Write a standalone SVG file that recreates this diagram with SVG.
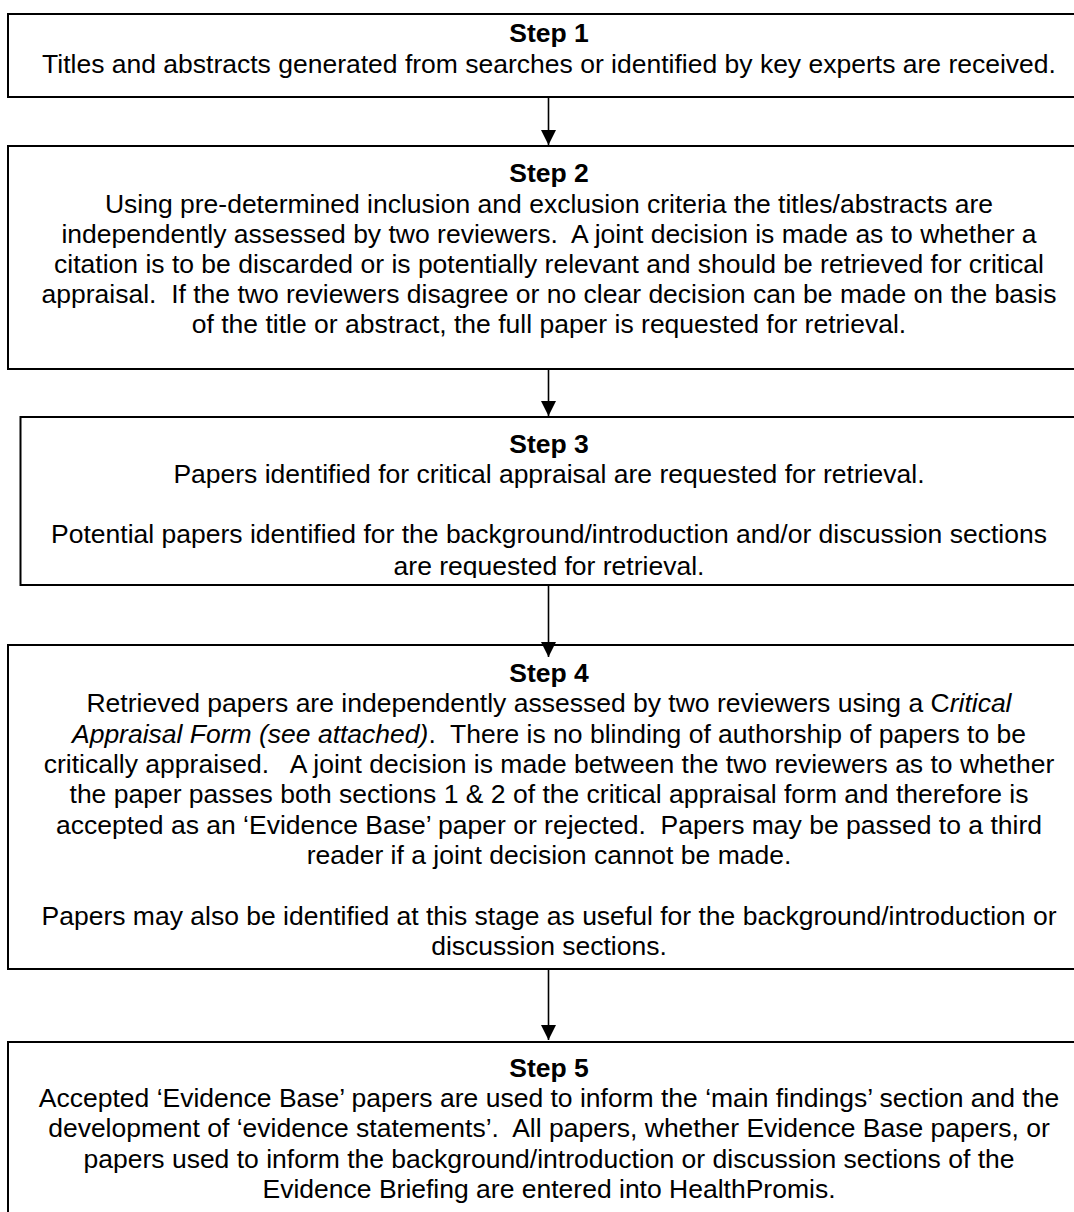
<svg xmlns="http://www.w3.org/2000/svg" width="1074" height="1212" viewBox="0 0 1074 1212" xml:space="preserve">
<style>
  .box { fill: #fff; stroke: #000; stroke-width: 2; }
  .t { font-family: "Liberation Sans", Arial, sans-serif; font-size: 26.5px; fill: #000; text-anchor: middle; white-space: pre; }
  .b { font-weight: bold; }
  .i { font-style: italic; }
  .conn { stroke: #000; stroke-width: 1.6; fill: none; marker-end: url(#ah); }
</style>
<defs>
  <marker id="ah" markerUnits="userSpaceOnUse" markerWidth="16" markerHeight="15" refX="15" refY="7.5" orient="auto">
    <path d="M0,0 L15,7.5 L0,15 Z" fill="#000"/>
  </marker>
  <clipPath id="clip3"><rect x="20" y="417" width="1070" height="161"/></clipPath>
</defs>
<rect width="1074" height="1212" fill="#fff"/>

<g id="step1">
  <rect class="box" x="8" y="14" width="1090" height="83"/>
  <text class="t b" x="549" y="42">Step 1</text>
  <text class="t" x="549" y="72.5">Titles and abstracts generated from searches or identified by key experts are received.</text>
</g>

<g id="step2">
  <rect class="box" x="8" y="146" width="1090" height="223"/>
  <text class="t b" x="549" y="181.7">Step 2</text>
  <text class="t" x="549" y="212.5">Using pre-determined inclusion and exclusion criteria the titles/abstracts are</text>
  <text class="t" x="549" y="242.7">independently assessed by two reviewers.  A joint decision is made as to whether a</text>
  <text class="t" x="549" y="272.9">citation is to be discarded or is potentially relevant and should be retrieved for critical</text>
  <text class="t" x="549" y="303.1">appraisal.  If the two reviewers disagree or no clear decision can be made on the basis</text>
  <text class="t" x="549" y="333.3">of the title or abstract, the full paper is requested for retrieval.</text>
</g>

<g id="step3">
  <rect class="box" x="20.5" y="417" width="1080" height="168"/>
  <g clip-path="url(#clip3)">
    <text class="t b" x="549" y="452.7">Step 3</text>
    <text class="t" x="549" y="482.9">Papers identified for critical appraisal are requested for retrieval.</text>
    <text class="t" x="549" y="543.3">Potential papers identified for the background/introduction and/or discussion sections</text>
    <text class="t" x="549" y="575">are requested for retrieval.</text>
  </g>
</g>

<g id="step4">
  <rect class="box" x="8" y="645" width="1090" height="324"/>
  <text class="t b" x="549" y="681.7">Step 4</text>
  <text class="t" x="549" y="712.1">Retrieved papers are independently assessed by two reviewers using a C<tspan class="i">ritical</tspan></text>
  <text class="t" x="549" y="742.5"><tspan class="i">Appraisal Form (see attached)</tspan>.  There is no blinding of authorship of papers to be</text>
  <text class="t" x="549" y="772.9">critically appraised.   A joint decision is made between the two reviewers as to whether</text>
  <text class="t" x="549" y="803.3">the paper passes both sections 1 &amp; 2 of the critical appraisal form and therefore is</text>
  <text class="t" x="549" y="833.7">accepted as an ‘Evidence Base’ paper or rejected.  Papers may be passed to a third</text>
  <text class="t" x="549" y="864.1">reader if a joint decision cannot be made.</text>
  <text class="t" x="549" y="924.9">Papers may also be identified at this stage as useful for the background/introduction or</text>
  <text class="t" x="549" y="955.3">discussion sections.</text>
</g>

<g id="step5">
  <rect class="box" x="8" y="1042" width="1090" height="200"/>
  <text class="t b" x="549" y="1076.7">Step 5</text>
  <text class="t" x="549" y="1107">Accepted ‘Evidence Base’ papers are used to inform the ‘main findings’ section and the</text>
  <text class="t" x="549" y="1137.4">development of ‘evidence statements’.  All papers, whether Evidence Base papers, or</text>
  <text class="t" x="549" y="1167.8">papers used to inform the background/introduction or discussion sections of the</text>
  <text class="t" x="549" y="1198.2">Evidence Briefing are entered into HealthPromis.</text>
</g>

<g id="connectors">
  <line class="conn" x1="548.5" y1="98" x2="548.5" y2="145"/>
  <line class="conn" x1="548.5" y1="370" x2="548.5" y2="416"/>
  <line class="conn" x1="548.5" y1="586" x2="548.5" y2="657"/>
  <line class="conn" x1="548.5" y1="970" x2="548.5" y2="1040"/>
</g>
</svg>
